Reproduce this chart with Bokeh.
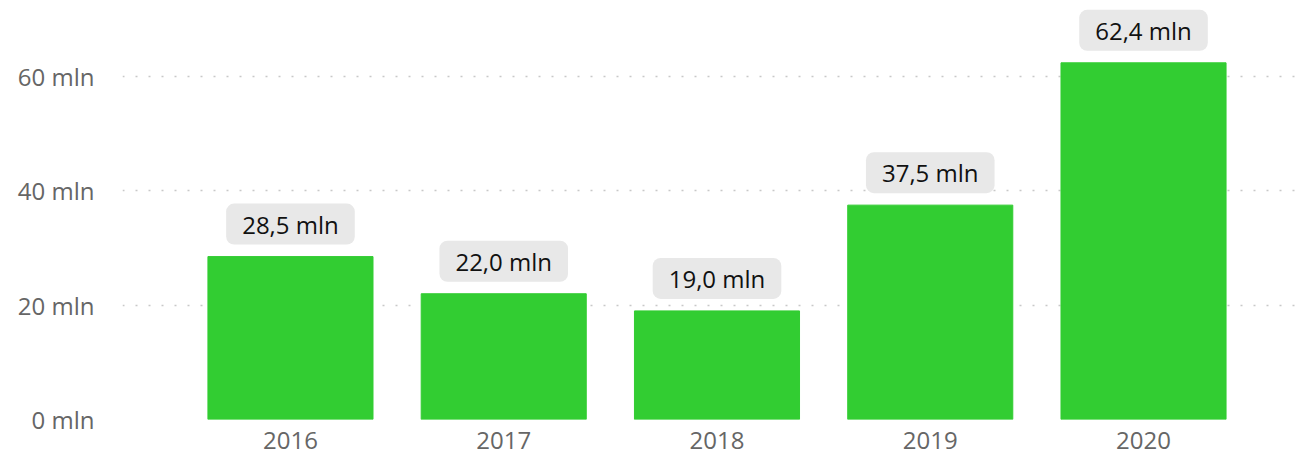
from bokeh.plotting import figure
from bokeh.models import ColumnDataSource, FixedTicker, PrintfTickFormatter, Range1d
from bokeh.core.properties import value
from bokeh.embed import file_html
from bokeh.resources import INLINE

years = ["2016", "2017", "2018", "2019", "2020"]
values = [28.5, 22.0, 19.0, 37.5, 62.4]
y_ticks = [0, 20, 40, 60]

idx = list(range(len(years)))
labels = [f"{v:.1f}".replace(".", ",") + " mln" for v in values]
src = ColumnDataSource(dict(x=idx, top=values, label=labels))

FONT = "Open Sans"
p = figure(width=1299, height=457, output_backend="svg", toolbar_location=None,
           x_range=Range1d(-0.7876, 4.722), y_range=Range1d(0, 71.9),
           min_border_left=122, min_border_right=2, min_border_top=8, min_border_bottom=38)
p.outline_line_color = None
p.xgrid.grid_line_color = None
p.ygrid.grid_line_color = "#c8c8c8"
p.ygrid.grid_line_dash = "2 11"
p.ygrid.grid_line_width = 1.5
p.ygrid.ticker = FixedTicker(ticks=y_ticks)

p.vbar(x="x", top="top", width=0.774, bottom=0, source=src, color="#32CD32")

p.text(x="x", y="top", text="label", source=src, anchor="bottom_center", y_offset=-12,
       text_font=value(FONT), text_font_size="24px", text_color="#111111",
       background_fill_color="#e8e8e8", border_radius=8, padding=(16, 4))

for ax in (p.xaxis[0], p.yaxis[0]):
    ax.axis_line_color = None
    ax.major_tick_line_color = None
    ax.minor_tick_line_color = None
    ax.major_label_text_font = FONT
    ax.major_label_text_font_size = "24px"
    ax.major_label_text_color = "#666666"

p.xaxis.ticker = FixedTicker(ticks=idx)
p.xaxis.major_label_overrides = {i: y for i, y in zip(idx, years)}
p.xaxis.major_label_standoff = 6
p.yaxis.ticker = FixedTicker(ticks=y_ticks)
p.yaxis.formatter = PrintfTickFormatter(format="%d mln")
p.yaxis.major_label_standoff = 22

open("out.html", "w").write(file_html(p, INLINE))
